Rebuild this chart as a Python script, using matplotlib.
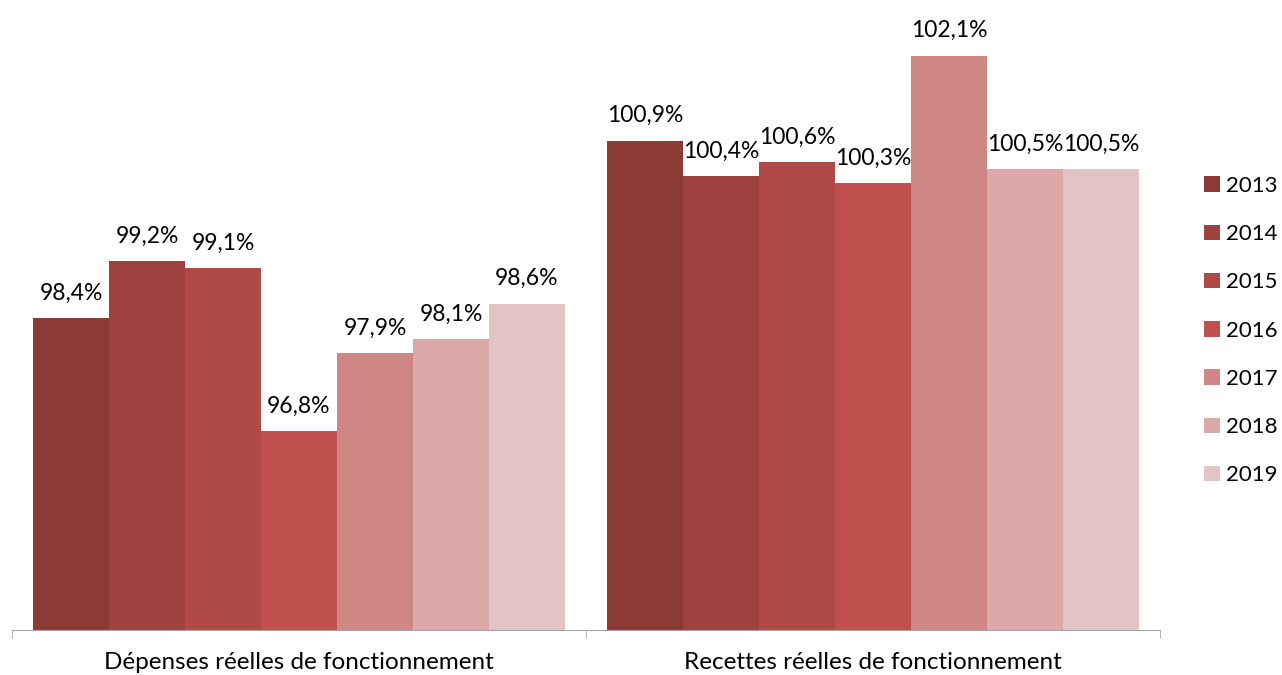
import matplotlib.pyplot as plt
import numpy as np

plt.rcParams['font.family'] = ['Lato', 'DejaVu Sans']

# Données
categories = ['Dépenses réelles de fonctionnement', 'Recettes réelles de fonctionnement']
years = ['2013', '2014', '2015', '2016', '2017', '2018', '2019']
values = {
    '2013': [98.4, 100.9],
    '2014': [99.2, 100.4],
    '2015': [99.1, 100.6],
    '2016': [96.8, 100.3],
    '2017': [97.9, 102.1],
    '2018': [98.1, 100.5],
    '2019': [98.6, 100.5],
}
colors = ['#8B3A36', '#9E413F', '#AF4A47', '#C0504D', '#CE8785', '#DAA9A8', '#E3C4C5']

fig = plt.figure(figsize=(12.82, 6.75), dpi=100)
ax = fig.add_axes([12 / 1282, 45 / 675, 1148 / 1282, 630 / 675])

x = np.arange(len(categories))
w = 0.1324
for i, year in enumerate(years):
    pos = x + (i - 3) * w
    bars = ax.bar(pos, values[year], width=w, bottom=0, color=colors[i], label=year)
    for b, v in zip(bars, values[year]):
        ax.annotate(f'{v:.1f}%'.replace('.', ','), (b.get_x() + w / 2, v),
                    xytext=(0, 10.5), textcoords='offset points',
                    ha='center', va='bottom', fontsize=16.5)

ax.set_ylim(94, 94 + 630 / 70.9)
ax.set_xlim(-0.5, 1.5)
ax.set_yticks([])
for s in ['top', 'right', 'left']:
    ax.spines[s].set_visible(False)
ax.spines['bottom'].set_color('#A6A6A6')
ax.set_xticks(x)
ax.set_xticklabels(categories, fontsize=17.5)
ax.tick_params(axis='x', which='major', length=0, pad=16)
ax.set_xticks([-0.5, 0.5, 1.5], minor=True)
ax.tick_params(axis='x', which='minor', length=6, color='#A6A6A6')

fig.legend(loc='upper left', bbox_to_anchor=(1184 / 1282, 1 - 156 / 675), frameon=False,
           fontsize=16, handlelength=0.7, handleheight=0.7, handletextpad=0.3,
           labelspacing=1.27)

fig.savefig('out.png', dpi=100)
